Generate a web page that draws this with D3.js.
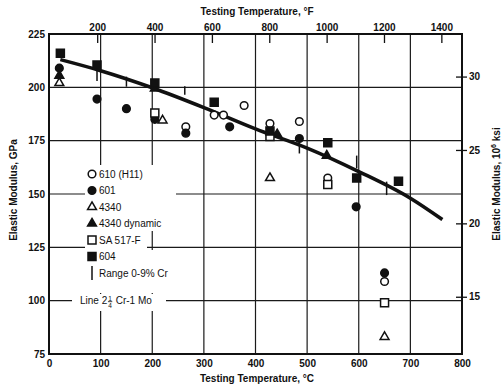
<!DOCTYPE html>
<html>
<head>
<meta charset="utf-8">
<script src="https://cdn.jsdelivr.net/npm/d3@7"></script>
<style>
  body { margin: 0; background: #fff; }
  svg text { font-family: "Liberation Sans", Arial, sans-serif; fill: #111; }
</style>
</head>
<body>
<svg id="chart" width="503" height="389"></svg>
<script>
// data: [temperature °C, elastic modulus GPa]
const s610    = [[265, 181.5], [320, 187], [338, 187], [378, 191.5], [428, 183], [485, 184], [540, 157.5], [650, 109]];
const s601    = [[20, 209], [93, 194.5], [150, 190], [205, 185], [265, 178.5], [350, 181.5], [485, 176], [595, 144], [650, 113]];
const s4340   = [[20, 202], [220, 184.5], [428, 157.5], [650, 83]];
const s4340d  = [[20, 205.5], [205, 199.5], [442, 178], [538, 168]];
const sSA517  = [[205, 188], [428, 177], [540, 154.5], [650, 99]];
const s604    = [[22, 216], [93, 210.5], [205, 202], [320, 193], [428, 179.5], [540, 174], [596, 157.5], [677, 156]];
// Range 0-9% Cr bars: [temp, low, high]
const crRange = [[93, 203, 212], [150, 200.3, 205], [263, 196.5, 200.5], [485, 169, 174.5], [596, 162, 168], [654, 149.5, 155.8]];
// Line 2 1/4 Cr-1 Mo
const lineCrMo = [[22, 213], [100, 207.8], [200, 199.8], [300, 190.5], [400, 180.5], [500, 171.5], [600, 160.5], [700, 148], [762, 138]];

const xTicksC   = [0, 100, 200, 300, 400, 500, 600, 700, 800];
const yTicksGPa = [75, 100, 125, 150, 175, 200, 225];
const xTicksF   = [200, 400, 600, 800, 1000, 1200, 1400];
const yTicksKsi = [15, 20, 25, 30];

const series = [
  { name: '610 (H11)',    data: s610,   shape: d3.symbolCircle,   filled: false },
  { name: '601',          data: s601,   shape: d3.symbolCircle,   filled: true  },
  { name: '4340',         data: s4340,  shape: d3.symbolTriangle, filled: false },
  { name: '4340 dynamic', data: s4340d, shape: d3.symbolTriangle, filled: true  },
  { name: 'SA 517-F',     data: sSA517, shape: d3.symbolSquare,   filled: false },
  { name: '604',          data: s604,   shape: d3.symbolSquare,   filled: true  },
];

const L = 49, R = 462, T = 34, B = 354;
const svg = d3.select('#chart');

const x  = d3.scaleLinear().domain([0, 800]).range([L, R]);
const xF = d3.scaleLinear().domain([32, 1472]).range([L, R]);
const y  = d3.scaleLinear().domain([75, 225]).range([B, T]);
const yK = d3.scaleLinear().domain([11.1, 32.9]).range([B, T]);

const symSize = s => s === d3.symbolCircle ? 46 : s === d3.symbolSquare ? 64 : 34;

// grid
const grid = svg.append('g').attr('stroke', '#1a1a1a').attr('stroke-width', 1.2);
grid.selectAll('.vg').data(xTicksC.slice(1, -1)).join('line')
  .attr('x1', d => x(d)).attr('x2', d => x(d)).attr('y1', T).attr('y2', B);
grid.selectAll('.hg').data(yTicksGPa.slice(1, -1)).join('line')
  .attr('x1', L).attr('x2', R).attr('y1', d => y(d)).attr('y2', d => y(d));

// white patches behind the legend
const patches = [[85, 165, 91, 66], [85, 231, 62, 19], [85, 250, 97, 43], [72, 294, 94, 17]];
svg.append('g').selectAll('rect').data(patches).join('rect')
  .attr('x', d => d[0]).attr('y', d => d[1]).attr('width', d => d[2]).attr('height', d => d[3])
  .attr('fill', '#fff');

// frame
svg.append('rect').attr('x', L).attr('y', T).attr('width', R - L).attr('height', B - T)
  .attr('fill', 'none').attr('stroke', '#111').attr('stroke-width', 2);

// bottom axis
const xAxis = d3.axisBottom(x).tickValues(xTicksC).tickSize(0).tickPadding(6);
const gx = svg.append('g').attr('transform', `translate(0,${B})`).call(xAxis);
// left axis
const yAxis = d3.axisLeft(y).tickValues(yTicksGPa).tickSize(0).tickPadding(4);
const gy = svg.append('g').attr('transform', `translate(${L},0)`).call(yAxis);
// top axis (°F), short inward ticks
const xAxisF = d3.axisTop(xF).tickValues(xTicksF).tickFormat(d3.format('d')).tickSize(-9).tickPadding(3);
const gxF = svg.append('g').attr('transform', `translate(0,${T})`).call(xAxisF);
// right axis (10^6 ksi)
const yAxisK = d3.axisRight(yK).tickValues(yTicksKsi).tickSize(5).tickPadding(2);
const gyK = svg.append('g').attr('transform', `translate(${R},0)`).call(yAxisK);
gyK.selectAll('.tick line').attr('x1', -6);

[gx, gy, gxF, gyK].forEach(g => {
  g.select('.domain').remove();
  g.selectAll('.tick line').attr('stroke', '#111').attr('stroke-width', 1.3);
  g.selectAll('text').attr('font-size', 10).attr('font-weight', 'bold')
    .style('font-family', '"Liberation Sans", Arial, sans-serif').attr('fill', '#111');
});

// axis titles
svg.append('text').attr('x', 257).attr('y', 15).attr('text-anchor', 'middle')
  .attr('font-size', 10).attr('font-weight', 'bold').text('Testing Temperature, °F');
svg.append('text').attr('x', 257).attr('y', 382).attr('text-anchor', 'middle')
  .attr('font-size', 10).attr('font-weight', 'bold').text('Testing Temperature, °C');
svg.append('text').attr('transform', 'translate(17,190) rotate(-90)').attr('text-anchor', 'middle')
  .attr('font-size', 10).attr('font-weight', 'bold').text('Elastic Modulus, GPa');
const rt = svg.append('text').attr('transform', 'translate(500,184) rotate(-90)').attr('text-anchor', 'middle')
  .attr('font-size', 10).attr('font-weight', 'bold');
rt.append('tspan').text('Elastic Modulus, 10');
rt.append('tspan').attr('font-size', 7).attr('dy', -4).text('6');
rt.append('tspan').attr('dy', 4).text(' ksi');

// curve
const line = d3.line().x(d => x(d[0])).y(d => y(d[1])).curve(d3.curveMonotoneX);
svg.append('path').datum(lineCrMo).attr('d', line)
  .attr('fill', 'none').attr('stroke', '#111').attr('stroke-width', 3.6);

// range bars
svg.append('g').selectAll('line').data(crRange).join('line')
  .attr('x1', d => x(d[0])).attr('x2', d => x(d[0]))
  .attr('y1', d => y(d[1])).attr('y2', d => y(d[2]))
  .attr('stroke', '#111').attr('stroke-width', 1.5);

// points
series.forEach(s => {
  svg.append('g').selectAll('path').data(s.data).join('path')
    .attr('transform', d => `translate(${x(d[0])},${y(d[1])})`)
    .attr('d', d3.symbol().type(s.shape).size(symSize(s.shape)))
    .attr('fill', s.filled ? '#111' : '#fff')
    .attr('stroke', '#111').attr('stroke-width', 1.5);
});

// legend
const legY = d3.scalePoint().domain(d3.range(7)).range([174, 273]);
const leg = svg.append('g');
series.forEach((s, i) => {
  leg.append('path')
    .attr('transform', `translate(92,${legY(i)})`)
    .attr('d', d3.symbol().type(s.shape).size(symSize(s.shape)))
    .attr('fill', s.filled ? '#111' : '#fff').attr('stroke', '#111').attr('stroke-width', 1.5);
  leg.append('text').attr('x', 99).attr('y', legY(i) + 3.5).attr('font-size', 10).text(s.name);
});
leg.append('line').attr('x1', 92).attr('x2', 92).attr('y1', legY(6) - 7).attr('y2', legY(6) + 7)
  .attr('stroke', '#111').attr('stroke-width', 1.5);
leg.append('text').attr('x', 99).attr('y', legY(6) + 3.5).attr('font-size', 10).text('Range 0-9% Cr');

// line label with stacked fraction
const lt = svg.append('text').attr('x', 80).attr('y', y(100) + 3.5).attr('font-size', 10);
lt.append('tspan').text('Line 2');
lt.append('tspan').attr('font-size', 6.5).attr('dx', 1).attr('dy', -3).text('1');
lt.append('tspan').attr('font-size', 6.5).attr('dx', -3.6).attr('dy', 7).text('4');
lt.append('tspan').attr('dy', -4).attr('dx', 1).text(' Cr-1 Mo');
const fx = lt.node().getStartPositionOfChar(6).x;
svg.append('line').attr('x1', fx - 0.3).attr('x2', fx + 4).attr('y1', y(100) + 1).attr('y2', y(100) + 1)
  .attr('stroke', '#111').attr('stroke-width', 0.8);
</script>
</body>
</html>
